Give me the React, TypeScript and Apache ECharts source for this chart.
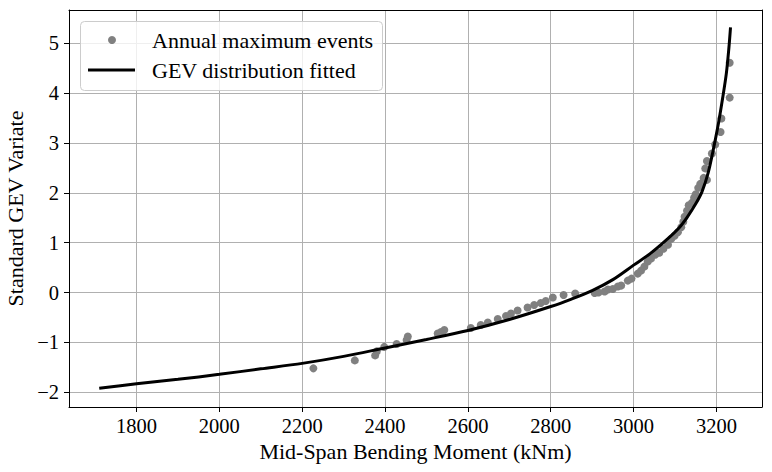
import React, { useEffect, useRef } from "react";
import * as echarts from "echarts";

// Annual maximum events: [moment kNm, standard GEV variate]
const eventsX = [
  2227, 2327, 2376, 2380, 2398, 2428, 2452, 2455, 2527, 2535, 2543, 2607, 2631, 2648, 2672,
  2692, 2704, 2720, 2744, 2760, 2776, 2788, 2805, 2831, 2859, 2906, 2915, 2930, 2938, 2950,
  2962, 2970, 2986, 2995, 3010, 3018, 3026, 3034, 3042, 3052, 3062, 3072, 3083, 3091, 3099,
  3107, 3115, 3120, 3123, 3129, 3133, 3141, 3146, 3150, 3156, 3161, 3169, 3177, 3173, 3177,
  3189, 3197, 3210, 3212, 3232, 3232,
];
const eventsY = [
  -1.52, -1.36, -1.26, -1.18, -1.09, -1.03, -0.95, -0.88, -0.82, -0.79, -0.75, -0.71, -0.65, -0.6, -0.53,
  -0.47, -0.42, -0.36, -0.3, -0.25, -0.21, -0.17, -0.1, -0.05, -0.02, -0.01, 0.0, 0.02, 0.06, 0.07,
  0.12, 0.14, 0.24, 0.28, 0.38, 0.44, 0.52, 0.62, 0.68, 0.76, 0.8, 0.88, 0.96, 1.08, 1.14,
  1.21, 1.31, 1.42, 1.52, 1.64, 1.75, 1.8, 1.9, 1.97, 2.1, 2.18, 2.3, 2.26, 2.49, 2.64,
  2.79, 2.97, 3.22, 3.49, 3.91, 4.61,
];

// GEV fitted curve
const curveX = [
  1710, 1800, 1900, 2000, 2100, 2200, 2300, 2400, 2500, 2600, 2700, 2800, 2850, 2900, 2950,
  3000, 3040, 3080, 3110, 3130, 3150, 3165, 3180, 3192, 3205, 3215, 3224, 3230, 3234,
];
const curveY = [
  -1.92, -1.83, -1.74, -1.64, -1.53, -1.42, -1.28, -1.11, -0.94, -0.76, -0.54, -0.28, -0.13, 0.04, 0.26,
  0.55, 0.78, 1.06, 1.3, 1.52, 1.78, 2.02, 2.4, 2.85, 3.4, 3.9, 4.4, 4.9, 5.32,
];

const seriesNames = ["Annual maximum events", "GEV distribution fitted"];
const xTitle = "Mid-Span Bending Moment (kNm)";
const yTitle = "Standard GEV Variate";

const X_MIN = 1637;
const X_MAX = 3310;
const Y_MIN = -2.295;
const Y_MAX = 5.667;

const FONT = "Liberation Serif";

export default function App() {
  const ref = useRef<HTMLDivElement>(null);

  useEffect(() => {
    document.body.style.margin = "0";
    if (!ref.current) return;
    const chart = echarts.init(ref.current, null, { renderer: "svg" });
    const fmt = (v: number) => String(v).replace("-", "\u2212");

    const scatterData = eventsX.map((x, i) => [x, eventsY[i]]);
    const lineData = curveX.map((x, i) => [x, curveY[i]]);

    chart.setOption({
      animation: false,
      backgroundColor: "#ffffff",
      textStyle: { fontFamily: FONT },
      grid: {
        left: 69,
        right: 10,
        top: 10,
        bottom: 65,
        containLabel: false,
        outerBoundsMode: "none",
      },
      xAxis: [
        {
          type: "value",
          min: X_MIN,
          max: X_MAX,
          splitNumber: 8,
          name: xTitle,
          nameLocation: "middle",
          nameGap: 24,
          nameTextStyle: { fontFamily: FONT, fontSize: 22, color: "#000" },
          axisLine: { show: true, onZero: false, lineStyle: { color: "#000", width: 1 } },
          axisTick: { show: true, length: 5, inside: false, lineStyle: { color: "#000", width: 1 } },
          axisLabel: {
            fontFamily: FONT,
            fontSize: 20.5,
            color: "#000",
            margin: 8,
            showMinLabel: false,
            showMaxLabel: false,
            formatter: fmt,
          },
          splitLine: { show: true, lineStyle: { color: "#b0b0b0", width: 1 } },
        },
        {
          type: "value",
          position: "top",
          min: X_MIN,
          max: X_MAX,
          axisLine: { show: true, onZero: false, lineStyle: { color: "#000", width: 1 } },
          axisTick: { show: false },
          axisLabel: { show: false },
          splitLine: { show: false },
        },
      ],
      yAxis: [
        {
          type: "value",
          min: Y_MIN,
          max: Y_MAX,
          splitNumber: 8,
          name: yTitle,
          nameLocation: "middle",
          nameGap: 40,
          nameTextStyle: { fontFamily: FONT, fontSize: 22, color: "#000" },
          axisLine: { show: true, onZero: false, lineStyle: { color: "#000", width: 1 } },
          axisTick: { show: true, length: 5, inside: false, lineStyle: { color: "#000", width: 1 } },
          axisLabel: {
            fontFamily: FONT,
            fontSize: 20.5,
            color: "#000",
            margin: 10,
            showMinLabel: false,
            showMaxLabel: false,
            formatter: fmt,
          },
          splitLine: { show: true, lineStyle: { color: "#b0b0b0", width: 1 } },
        },
        {
          type: "value",
          position: "right",
          min: Y_MIN,
          max: Y_MAX,
          axisLine: { show: true, onZero: false, lineStyle: { color: "#000", width: 1 } },
          axisTick: { show: false },
          axisLabel: { show: false },
          splitLine: { show: false },
        },
      ],
      series: [
        {
          name: seriesNames[0],
          type: "scatter",
          data: scatterData,
          symbol: "circle",
          symbolSize: 8,
          itemStyle: { color: "#808080", opacity: 1 },
          z: 2,
        },
        {
          name: seriesNames[1],
          type: "line",
          data: lineData,
          showSymbol: false,
          symbol: "none",
          smooth: 0.3,
          lineStyle: { color: "#000", width: 3 },
          z: 3,
        },
      ],
      graphic: [
        {
          type: "rect",
          z: 100,
          shape: { x: 80.5, y: 21.5, width: 302, height: 69, r: 4 },
          style: { fill: "rgba(255,255,255,0.8)", stroke: "#cccccc", lineWidth: 1 },
        },
        {
          type: "circle",
          z: 101,
          shape: { cx: 112, cy: 40, r: 4 },
          style: { fill: "#808080" },
        },
        {
          type: "line",
          z: 101,
          shape: { x1: 88, y1: 70, x2: 135, y2: 70 },
          style: { stroke: "#000", lineWidth: 3 },
        },
        {
          type: "text",
          z: 101,
          x: 152,
          y: 40,
          style: {
            text: seriesNames[0],
            fontFamily: FONT,
            fontSize: 22,
            fill: "#000",
            verticalAlign: "middle",
            align: "left",
          },
        },
        {
          type: "text",
          z: 101,
          x: 152,
          y: 70,
          style: {
            text: seriesNames[1],
            fontFamily: FONT,
            fontSize: 22,
            fill: "#000",
            verticalAlign: "middle",
            align: "left",
          },
        },
      ],
    });

    return () => chart.dispose();
  }, []);

  return <div ref={ref} style={{ width: 772, height: 472 }} />;
}
